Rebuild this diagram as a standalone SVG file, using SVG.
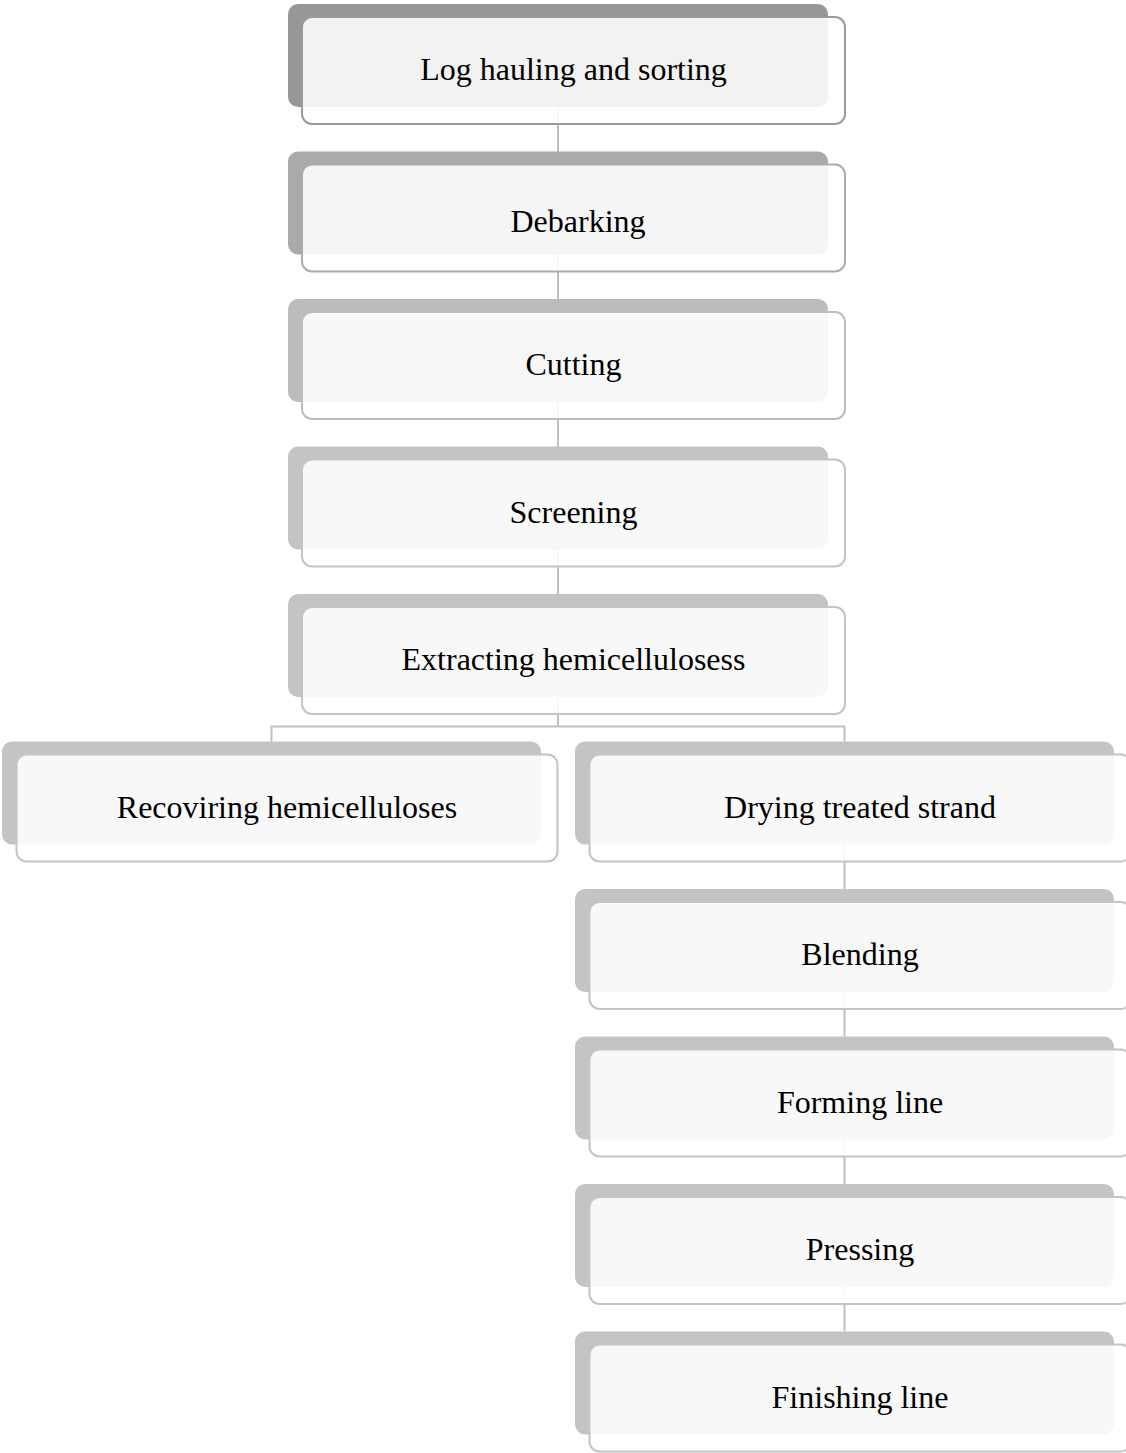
<svg xmlns="http://www.w3.org/2000/svg" width="1126" height="1453" viewBox="0 0 1126 1453">
<style>
.back{stroke:none}
.front{fill:#ffffff;fill-opacity:0.88;stroke-width:2}
.lbl{font-family:"Liberation Serif","Times New Roman",serif;font-size:32px;fill:#000;text-anchor:middle}
.conn{fill:none;stroke:#c0c0c0;stroke-width:2}
</style>
<rect width="1126" height="1453" fill="#ffffff"/>
<g id="connectors">
<path class="conn" d="M558 107V152"/>
<path class="conn" d="M558 254V299"/>
<path class="conn" d="M558 402V447"/>
<path class="conn" d="M558 549V594"/>
<path class="conn" d="M558 697V726.5M271.5 741.5V726.5H844.5V741.5"/>
<path class="conn" d="M844.5 844V889"/>
<path class="conn" d="M844.5 992V1036.5"/>
<path class="conn" d="M844.5 1139V1184"/>
<path class="conn" d="M844.5 1287V1331.5"/>
</g>
<g id="n1">
<rect class="back" x="288" y="4" width="540" height="103" rx="10" fill="#979797"/>
<rect class="front" x="302" y="17" width="543" height="107" rx="10" stroke="#9a9a9a"/>
<text class="lbl" x="573.5" y="80">Log hauling and sorting</text>
</g>
<g id="n2">
<rect class="back" x="288" y="151.5" width="540" height="103" rx="10" fill="#aaaaaa"/>
<rect class="front" x="302" y="164.5" width="543" height="107" rx="10" stroke="#acacac"/>
<text class="lbl" x="578" y="231.5">Debarking</text>
</g>
<g id="n3">
<rect class="back" x="288" y="299" width="540" height="103" rx="10" fill="#bcbcbc"/>
<rect class="front" x="302" y="312" width="543" height="107" rx="10" stroke="#bdbdbd"/>
<text class="lbl" x="573.5" y="375">Cutting</text>
</g>
<g id="n4">
<rect class="back" x="288" y="446.5" width="540" height="103" rx="10" fill="#c4c4c4"/>
<rect class="front" x="302" y="459.5" width="543" height="107" rx="10" stroke="#c4c4c4"/>
<text class="lbl" x="573.5" y="522.5">Screening</text>
</g>
<g id="n5">
<rect class="back" x="288" y="594" width="540" height="103" rx="10" fill="#c4c4c4"/>
<rect class="front" x="302" y="607" width="543" height="107" rx="10" stroke="#c4c4c4"/>
<text class="lbl" x="573.5" y="670">Extracting hemicellulosess</text>
</g>
<g id="n6">
<rect class="back" x="2" y="741.5" width="539" height="103" rx="10" fill="#c4c4c4"/>
<rect class="front" x="16.5" y="754.5" width="541" height="107" rx="10" stroke="#c4c4c4"/>
<text class="lbl" x="287" y="817.5">Recoviring hemicelluloses</text>
</g>
<g id="n7">
<rect class="back" x="575" y="741.5" width="539" height="103" rx="10" fill="#c4c4c4"/>
<rect class="front" x="589.5" y="754.5" width="541" height="107" rx="10" stroke="#c4c4c4"/>
<text class="lbl" x="860" y="817.5">Drying treated strand</text>
</g>
<g id="n8">
<rect class="back" x="575" y="889" width="539" height="103" rx="10" fill="#c4c4c4"/>
<rect class="front" x="589.5" y="902" width="541" height="107" rx="10" stroke="#c4c4c4"/>
<text class="lbl" x="860" y="965">Blending</text>
</g>
<g id="n9">
<rect class="back" x="575" y="1036.5" width="539" height="103" rx="10" fill="#c4c4c4"/>
<rect class="front" x="589.5" y="1049.5" width="541" height="107" rx="10" stroke="#c4c4c4"/>
<text class="lbl" x="860" y="1112.5">Forming line</text>
</g>
<g id="n10">
<rect class="back" x="575" y="1184" width="539" height="103" rx="10" fill="#c4c4c4"/>
<rect class="front" x="589.5" y="1197" width="541" height="107" rx="10" stroke="#c4c4c4"/>
<text class="lbl" x="860" y="1260">Pressing</text>
</g>
<g id="n11">
<rect class="back" x="575" y="1331.5" width="539" height="103" rx="10" fill="#c4c4c4"/>
<rect class="front" x="589.5" y="1344.5" width="541" height="107" rx="10" stroke="#c4c4c4"/>
<text class="lbl" x="860" y="1407.5">Finishing line</text>
</g>
</svg>
